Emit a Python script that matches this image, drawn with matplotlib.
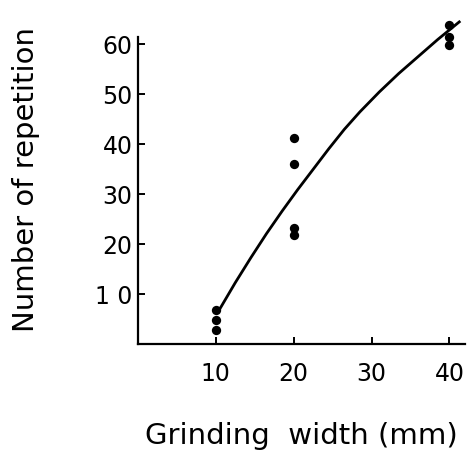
import numpy as np
import matplotlib
matplotlib.use('Agg')
import matplotlib.pyplot as plt

# measured points, grinding width (mm) vs number of repetition
width_pts = [10, 10, 10, 20, 20, 20, 20, 40, 40, 40]
reps_pts = [6.8, 4.8, 2.8, 41.3, 36.0, 23.3, 21.9, 63.9, 61.5, 59.9]

# fitted curve
curve_x = [10.5, 12.5, 14.5, 16.5, 18.5, 20.5, 22.5, 24.5, 26.5, 28.5,
           31.0, 33.5, 36.0, 38.5, 41.4]
curve_y = [7.0, 12.3, 17.3, 22.1, 26.6, 30.9, 35.0, 39.1, 43.0, 46.5,
           50.5, 54.2, 57.6, 61.0, 64.7]

x_ticks = [10, 20, 30, 40]
y_ticks = [10, 20, 30, 40, 50, 60]
y_tick_labels = ['1 0', '20', '30', '40', '50', '60']

W, H = 471, 450
fig = plt.figure(figsize=(W / 100, H / 100), dpi=100)
ax = fig.add_axes([138 / W, (H - 344) / H, (465 - 138) / W, (344 - 37) / H])

ax.plot(curve_x, curve_y, 'k-', linewidth=2.0, clip_on=False,
        solid_capstyle='butt', solid_joinstyle='round')
ax.scatter(width_pts, reps_pts, s=45, c='k', zorder=3, clip_on=False, linewidths=0)

ax.set_xlim(0, 42)
ax.set_ylim(0, 61.5)
ax.set_xticks(x_ticks)
ax.set_yticks(y_ticks)
ax.set_yticklabels(y_tick_labels)

for s in ['top', 'right']:
    ax.spines[s].set_visible(False)
for s in ['left', 'bottom']:
    ax.spines[s].set_linewidth(1.6)

ax.tick_params(axis='both', direction='in', length=5, width=1.4, labelsize=17)
ax.tick_params(axis='x', pad=13)
ax.tick_params(axis='y', pad=4)

fig.text(26 / W, 1 - 179 / H, 'Number of repetition', rotation=90,
         ha='center', va='center', fontsize=21)
fig.text(301 / W, 1 - 436 / H, 'Grinding  width (mm)',
         ha='center', va='center', fontsize=21)

fig.savefig('out.png', dpi=100)
